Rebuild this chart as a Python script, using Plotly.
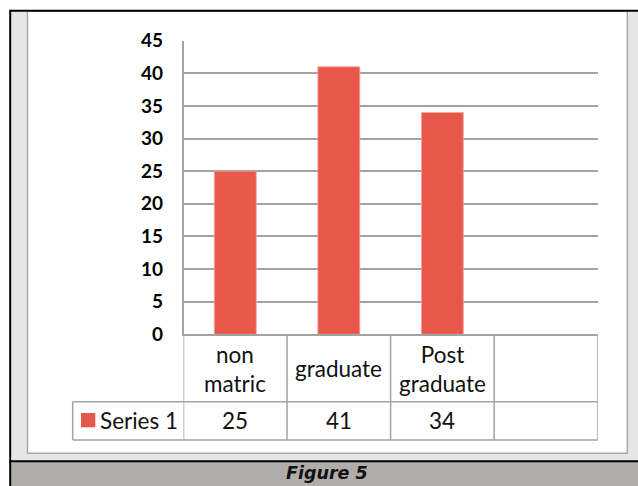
import plotly.graph_objects as go

# ---- data ----
categories = ["non<br>matric", "graduate", "Post<br>graduate", ""]
series_name = "Series 1"
values = [25, 41, 34, None]
y_ticks = [0, 5, 10, 15, 20, 25, 30, 35, 40, 45]
caption = "Figure 5"

W, H = 638, 486
def px(x):
    return x / W
def py(y):
    return 1 - y / H

BAR = "#E8584A"
GRID = "#a3a3a3"
TXT_FONT = "Lato"

x_idx = list(range(len(categories)))
bx = [i for i, v in zip(x_idx, values) if v is not None]
bv = [v for v in values if v is not None]

fig = go.Figure()
fig.add_trace(go.Bar(
    x=bx, y=bv, width=0.405,
    marker=dict(color=BAR, line=dict(color="#f3a59c", width=0.8)),
    showlegend=False, hoverinfo="skip",
))

X0, X1 = 183.5, 597.7
Y0, Y1 = 334.3, 40.7

shapes = []
shapes.append(dict(type="rect", xref="paper", yref="paper", x0=px(11), x1=1, y0=py(461), y1=py(11),
                   fillcolor="#e6e6e6", line=dict(width=0), layer="below"))
shapes.append(dict(type="rect", xref="paper", yref="paper", x0=px(27.5), x1=px(627.3), y0=py(453.3), y1=py(11),
                   fillcolor="white", line=dict(color="#a8a8a8", width=1.5), layer="below"))
shapes.append(dict(type="rect", xref="paper", yref="paper", x0=px(10), x1=1, y0=0, y1=py(461.5),
                   fillcolor="#afacaa", line=dict(width=0), layer="below"))
shapes.append(dict(type="line", xref="paper", yref="paper", x0=px(9.5), x1=1, y0=py(10.8), y1=py(10.8),
                   line=dict(color="black", width=2)))
shapes.append(dict(type="line", xref="paper", yref="paper", x0=px(10.2), x1=px(10.2), y0=0, y1=py(10),
                   line=dict(color="black", width=2)))
shapes.append(dict(type="line", xref="paper", yref="paper", x0=px(9.5), x1=1, y0=py(461.3), y1=py(461.3),
                   line=dict(color="black", width=2)))

TY0, TY1, TY2 = Y0, 401.8, 440.0
LBL_X = 72.7
n = len(categories)
for i in range(n + 1):
    shapes.append(dict(type="line", xref="x", yref="paper", x0=i - 0.5, x1=i - 0.5,
                       y0=py(TY0), y1=py(TY2), line=dict(color=GRID, width=1.5)))
shapes.append(dict(type="line", xref="paper", yref="paper", x0=px(LBL_X), x1=px(LBL_X),
                   y0=py(TY1), y1=py(TY2), line=dict(color=GRID, width=1.5)))
for yy in (TY1, TY2):
    shapes.append(dict(type="line", xref="paper", yref="paper", x0=px(LBL_X), x1=px(X1),
                       y0=py(yy), y1=py(yy), line=dict(color=GRID, width=1.5)))
shapes.append(dict(type="rect", xref="paper", yref="paper", x0=px(81), x1=px(95.3), y0=py(427.3), y1=py(413),
                   fillcolor=BAR, line=dict(width=0)))

TFS = 22.5
annotations = []
for i, c in enumerate(categories):
    if c:
        annotations.append(dict(x=i, xref="x", y=py((TY0 + TY1) / 2 + 0.5), yref="paper", text=c,
                                showarrow=False, xanchor="center", yanchor="middle",
                                font=dict(family=TXT_FONT, size=TFS, color="#111")))
    if values[i] is not None:
        annotations.append(dict(x=i, xref="x", y=py((TY1 + TY2) / 2), yref="paper", text=str(values[i]),
                                showarrow=False, xanchor="center", yanchor="middle",
                                font=dict(family=TXT_FONT, size=TFS, color="#111")))
annotations.append(dict(x=px(98), xref="paper", y=py((TY1 + TY2) / 2), yref="paper", text=series_name,
                        showarrow=False, xanchor="left", yanchor="middle",
                        font=dict(family=TXT_FONT, size=TFS, color="#111")))
annotations.append(dict(x=px(327), xref="paper", y=py(473), yref="paper", text="<b><i>" + caption + "</i></b>",
                        showarrow=False, xanchor="center", yanchor="middle",
                        font=dict(family="DejaVu Sans", size=17.5, color="#111")))

fig.update_layout(
    width=W, height=H, margin=dict(l=0, r=0, t=0, b=0, pad=0), autosize=False,
    paper_bgcolor="white", plot_bgcolor="rgba(0,0,0,0)",
    shapes=shapes, annotations=annotations, bargap=0.6,
    xaxis=dict(domain=[px(X0), px(X1)], range=[-0.5, n - 0.5], showticklabels=False, automargin=False,
               showgrid=False, zeroline=False, showline=True, linecolor=GRID, linewidth=1.5,
               fixedrange=True),
    yaxis=dict(domain=[py(Y0), py(Y1)], range=[0, 45], tickvals=y_ticks, automargin=False,
               ticktext=["<b>%d</b>" % t for t in y_ticks],
               showgrid=True, gridcolor=GRID, gridwidth=1.5, zeroline=False,
               showline=True, linecolor=GRID, linewidth=1.5, ticks="", ticklabelstandoff=15,
               tickfont=dict(family=TXT_FONT, size=19, color="black"), fixedrange=True),
)

fig.write_html("out.html")
